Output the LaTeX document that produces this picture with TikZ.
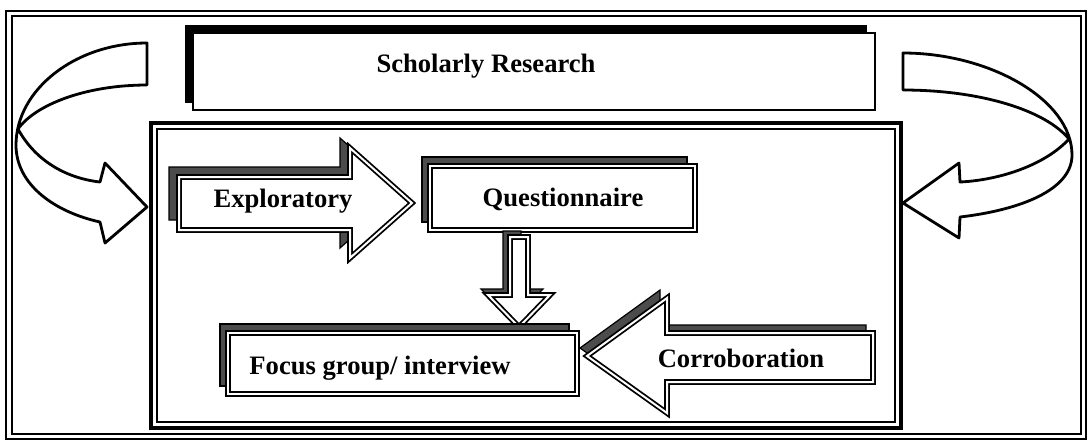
\documentclass[tikz,border=0pt]{standalone}
\usepackage{fontspec}
\setmainfont{Liberation Serif}
\begin{document}
\begin{tikzpicture}[x=0.5pt,y=-0.5pt,
  lbl/.style={font=\fontsize{13.3}{15}\selectfont\bfseries, inner sep=0pt, anchor=base},
  shadowfill/.style={fill=black!70, draw=black, line width=0.6pt},
  dbox/.style={fill=white, draw=black, line width=0.9pt, double=white, double distance=1pt},
  curved/.style={fill=white, draw=black, line width=1.4pt, line join=round}]
\useasboundingbox (0,0) rectangle (1090,441);
\fill[white] (0,0) rectangle (1090,441);

% outer double frame
\draw[line width=1.3pt] (6,11) rectangle (1086,439);
\draw[line width=1pt] (12,16) rectangle (1081,434);

% inner double frame
\draw[line width=1.6pt] (151,123) rectangle (901,428);
\draw[line width=1.1pt] (157,129) rectangle (895,422);

% title box with solid shadow
\fill[black] (185,25) rectangle (867,103);
\draw[fill=white, line width=1.1pt] (193,33) rectangle (875,110);
\node[lbl] (sr) at (486,72) {Scholarly Research};

% left curved arrow
\draw[curved] (147,43) .. controls (75,43) and (16,90) .. (16,145)
  .. controls (16,185) and (55,212) .. (100,222) -- (105,243) -- (147,207)
  -- (105,163) -- (100,182) .. controls (65,178) and (35,160) .. (18,129)
  .. controls (35,105) and (85,85) .. (147,85) -- cycle;

% right curved arrow
\draw[curved] (903,53) .. controls (990,53) and (1072,100) .. (1072,155)
  .. controls (1072,190) and (1020,210) .. (960,217) -- (959,238) -- (903,203)
  -- (959,163) -- (960,182) .. controls (1000,180) and (1045,165) .. (1069,139)
  .. controls (1045,110) and (980,90) .. (903,90) -- cycle;

% exploratory arrow
\filldraw[shadowfill] (169,167) -- (340,167) -- (340,138) -- (402,193)
  -- (340,248) -- (340,220) -- (169,220) -- cycle;
\draw[dbox] (179,177) -- (350,177) -- (350,148) -- (412,203)
  -- (350,258) -- (350,230) -- (179,230) -- cycle;
\node[lbl] (expl) at (283,207) {Exploratory};

% questionnaire box
\filldraw[shadowfill] (422,157) rectangle (687,222);
\draw[dbox] (430,166) rectangle (695,230);
\node[lbl] (quest) at (563,206) {Questionnaire};

% downward arrow
\filldraw[shadowfill] (503,231) -- (521,231) -- (521,289) -- (543,289)
  -- (512,321) -- (481,289) -- (503,289) -- cycle;
\draw[dbox] (510,237) -- (528,237) -- (528,295) -- (550,295)
  -- (519,327) -- (488,295) -- (510,295) -- cycle;

% focus group box
\filldraw[shadowfill] (220,324) rectangle (569,386);
\draw[dbox] (228,333) rectangle (577,394);
\node[lbl] (focus) at (380,374) {Focus group/ interview};

% corroboration arrow
\filldraw[shadowfill] (866,325) -- (660,325) -- (660,290) -- (580,348)
  -- (660,405) -- (660,374) -- (866,374) -- cycle;
\draw[dbox] (873,333) -- (667,333) -- (667,298) -- (587,356)
  -- (667,413) -- (667,382) -- (873,382) -- cycle;
\node[lbl] (corr) at (741,367) {Corroboration};
\end{tikzpicture}
\end{document}
